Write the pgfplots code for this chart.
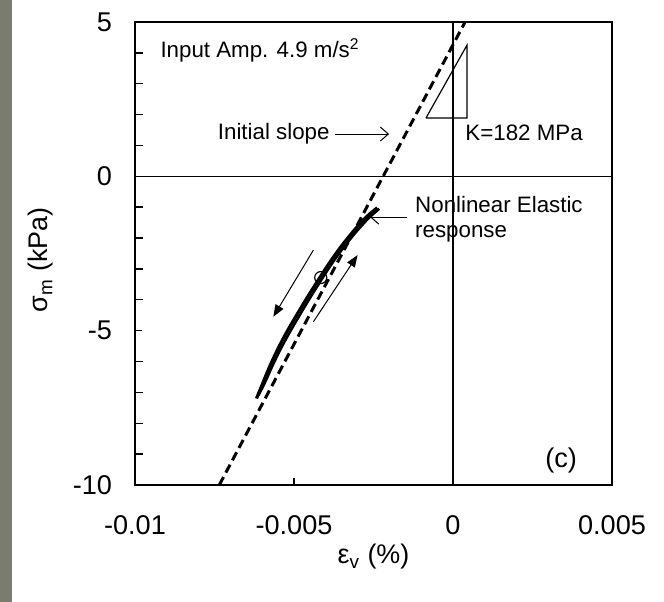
\documentclass[border=0pt]{standalone}
\usepackage{fontspec}
\setmainfont{Liberation Sans}
\usepackage{pgfplots}
\pgfplotsset{compat=1.18}
\usetikzlibrary{arrows.meta}
\definecolor{strip}{HTML}{7A7C6E}
\begin{document}
\begin{tikzpicture}
\useasboundingbox (-67.5bp,-58.5bp) rectangle (264.5bp,242.5bp);
\fill[strip] (-67.5bp,-58.5bp) rectangle (-61.5bp,242.5bp);
\begin{axis}[
  at={(0,0)}, anchor=south west,
  scale only axis, width=238.5bp, height=231.5bp,
  xmin=-0.01, xmax=0.005, ymin=-10, ymax=5,
  scaled x ticks=false, scaled y ticks=false,
  xtick={-0.01,-0.005,0,0.005}, xticklabels={-0.01,-0.005,0,0.005},
  ytick={-10,-5,0,5}, yticklabels={-10,-5,0,5},
  minor ytick={-9,-8,-7,-6,-4,-3,-2,-1,1,2,3,4},
  tick align=inside, xtick pos=bottom, ytick pos=left,
  major tick length=3.5bp, minor tick length=4bp,
  tick style={black, line width=0.7bp},
  axis line style={line width=0.8bp},
  ticklabel style={font=\fontsize{13.6}{16}\selectfont},
  xticklabel style={yshift=-12bp},
  yticklabel style={xshift=-8bp},
  xlabel={ε\textsubscript{v} (\%)}, ylabel={σ\textsubscript{m} (kPa)},
  label style={font=\fontsize{13.5}{16}\selectfont},
  xlabel style={at={(axis description cs:0.5,-0.155)}, anchor=center},
  ylabel style={at={(axis description cs:-0.197,0.486)}, anchor=center},
  clip=false,
]
% reference lines
\addplot[black, line width=0.6bp] coordinates {(0,-10) (0,5)};
\addplot[black, line width=0.6bp] coordinates {(-0.01,0) (0.005,0)};
% initial slope (dashed)
\addplot[black, line width=1.5bp, dash pattern=on 4.5bp off 2.5bp] coordinates {(-0.00735,-10) (0.00038,5)};
% slope triangle
\addplot[black, line width=0.6bp] coordinates {(-0.00085,1.89) (0.00044,1.89) (0.00044,4.25) (-0.00085,1.89)};
% response loop
\addplot[black, line width=1.6bp, smooth] coordinates {
(-0.00618,-7.20) (-0.00600,-6.75) (-0.00578,-6.20) (-0.00552,-5.62) (-0.00523,-5.05)
(-0.00492,-4.50) (-0.00458,-3.92) (-0.00420,-3.30) (-0.00385,-2.75) (-0.00350,-2.25)
(-0.00315,-1.80) (-0.00285,-1.45) (-0.00260,-1.20) (-0.00238,-1.02)};
\addplot[black, line width=1.2bp, smooth] coordinates {
(-0.00612,-7.10) (-0.00592,-6.70) (-0.00568,-6.15) (-0.00542,-5.60) (-0.00513,-5.05)
(-0.00482,-4.50) (-0.00450,-3.95) (-0.00414,-3.36) (-0.00380,-2.82) (-0.00345,-2.32)
(-0.00310,-1.87) (-0.00280,-1.52) (-0.00255,-1.25) (-0.00232,-1.05)};
\addplot[only marks, mark=o, mark size=3bp, mark options={line width=0.6bp, fill=none}] coordinates {(-0.00416,-3.28)};
% direction arrows
\addplot[black, line width=0.5bp, -{Triangle[length=6bp,width=4.5bp]}] coordinates {(-0.00439,-2.39) (-0.00565,-4.55)};
\addplot[black, line width=0.5bp, -{Triangle[length=6bp,width=4.5bp]}] coordinates {(-0.00439,-4.71) (-0.00300,-2.55)};
% annotation arrows
\addplot[black, line width=0.5bp, -{Straight Barb[length=4bp,width=7bp]}] coordinates {(-0.00371,1.37) (-0.00201,1.37)};
\addplot[black, line width=0.5bp, -{Straight Barb[length=4bp,width=7bp]}] coordinates {(-0.00145,-1.32) (-0.00261,-1.32)};
% texts
\node[anchor=west, inner sep=0pt, font=\fontsize{11.2}{13}\selectfont] at (axis cs:-0.00921,4.08) {Input Amp. 4.9 m/s\textsuperscript{2}};
\node[anchor=east, inner sep=0pt, font=\fontsize{11.2}{13}\selectfont] at (axis cs:-0.00387,1.37) {Initial slope};
\node[anchor=west, inner sep=0pt, font=\fontsize{11.2}{13}\selectfont] at (axis cs:0.00038,1.40) {K=182 MPa};
\node[anchor=west, inner sep=0pt, align=left, font=\fontsize{11.2}{12.5}\selectfont] at (axis cs:-0.00120,-1.40) {Nonlinear Elastic\\response};
\node[anchor=center, inner sep=0pt, font=\fontsize{13.6}{16}\selectfont] at (axis cs:0.00340,-9.19) {(c)};
\end{axis}
\end{tikzpicture}
\end{document}
